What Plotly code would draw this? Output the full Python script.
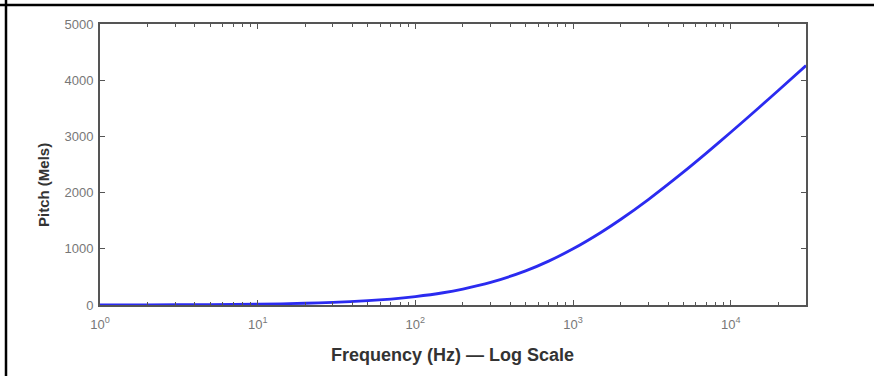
import plotly.graph_objects as go

# Data (frequency in Hz, pitch in mels)
freq_hz = [1, 2, 5, 10, 20, 30, 50, 70, 100, 150, 200, 300, 500, 700, 1000,
           1500, 2000, 3000, 5000, 7000, 10000, 15000, 20000, 30000]
pitch_mels = [2, 3, 8, 14, 31, 45, 77, 106, 150, 218, 284, 402, 607, 781, 1000,
              1291, 1521, 1876, 2363, 2702, 3073, 3505, 3816, 4261]

x_tick_vals = [1, 10, 100, 1000, 10000]
x_tick_text = ["10<sup>0</sup>", "10<sup>1</sup>", "10<sup>2</sup>", "10<sup>3</sup>", "10<sup>4</sup>"]
y_tick_vals = [0, 1000, 2000, 3000, 4000, 5000]
x_minor_vals = [m * 10 ** k for k in range(0, 5) for m in range(2, 10) if m * 10 ** k <= 30000]

x_title = "<b>Frequency (Hz) — Log Scale</b>"
y_title = "<b>Pitch (Mels)</b>"

W, H = 874, 376
ML, MR, MT, MB = 100, 68, 24, 71
PW, PH = W - ML - MR, H - MT - MB

def px_to_paper_x(px):
    return (px - ML) / PW

def px_to_paper_y(py):
    return (H - MB - py) / PH

fig = go.Figure()
fig.add_trace(go.Scatter(
    x=freq_hz, y=pitch_mels, mode="lines",
    line=dict(color="#2b2bf0", width=2.8, shape="spline", smoothing=0.6),
    showlegend=False, hoverinfo="skip",
))

axis_color = "#555555"
FONT = "Liberation Sans, Arial, sans-serif"

fig.update_layout(
    width=W, height=H,
    margin=dict(l=ML, r=MR, t=MT, b=MB),
    paper_bgcolor="white", plot_bgcolor="white",
    xaxis=dict(
        type="log", range=[0, 4.477],
        tickvals=x_tick_vals, ticktext=x_tick_text,
        ticks="inside", ticklen=5, tickwidth=1.3, tickcolor=axis_color,
        minor=dict(tickvals=x_minor_vals, ticks="inside", ticklen=3, tickwidth=1.2, tickcolor=axis_color),
        showline=True, linecolor=axis_color, linewidth=2, mirror="ticks",
        showgrid=False, zeroline=False,
        tickfont=dict(family=FONT, size=13, color="#777777"),
        ticklabelstandoff=6,
    ),
    yaxis=dict(
        range=[0, 5000],
        tickvals=y_tick_vals,
        ticks="inside", ticklen=5, tickwidth=1.3, tickcolor=axis_color,
        showline=True, linecolor=axis_color, linewidth=2, mirror="ticks",
        showgrid=False, zeroline=False,
        tickfont=dict(family=FONT, size=13, color="#777777"),
        ticklabelstandoff=2,
    ),
)

fig.add_annotation(text=x_title, xref="paper", yref="paper",
                   x=px_to_paper_x(452), y=px_to_paper_y(355),
                   xanchor="center", yanchor="middle", showarrow=False,
                   font=dict(family=FONT, size=18, color="#333333"))
fig.add_annotation(text=y_title, xref="paper", yref="paper",
                   x=px_to_paper_x(43), y=px_to_paper_y(185),
                   xanchor="center", yanchor="middle", showarrow=False, textangle=-90,
                   font=dict(family=FONT, size=15, color="#333333"))

# Outer frame lines (top and left) of the picture
fig.add_shape(type="line", xref="paper", yref="paper",
              x0=px_to_paper_x(0), x1=px_to_paper_x(W), y0=px_to_paper_y(5), y1=px_to_paper_y(5),
              line=dict(color="black", width=2.5))
fig.add_shape(type="line", xref="paper", yref="paper",
              x0=px_to_paper_x(6), x1=px_to_paper_x(6), y0=px_to_paper_y(0), y1=px_to_paper_y(H),
              line=dict(color="black", width=2.5))

fig.write_html("out.html")
